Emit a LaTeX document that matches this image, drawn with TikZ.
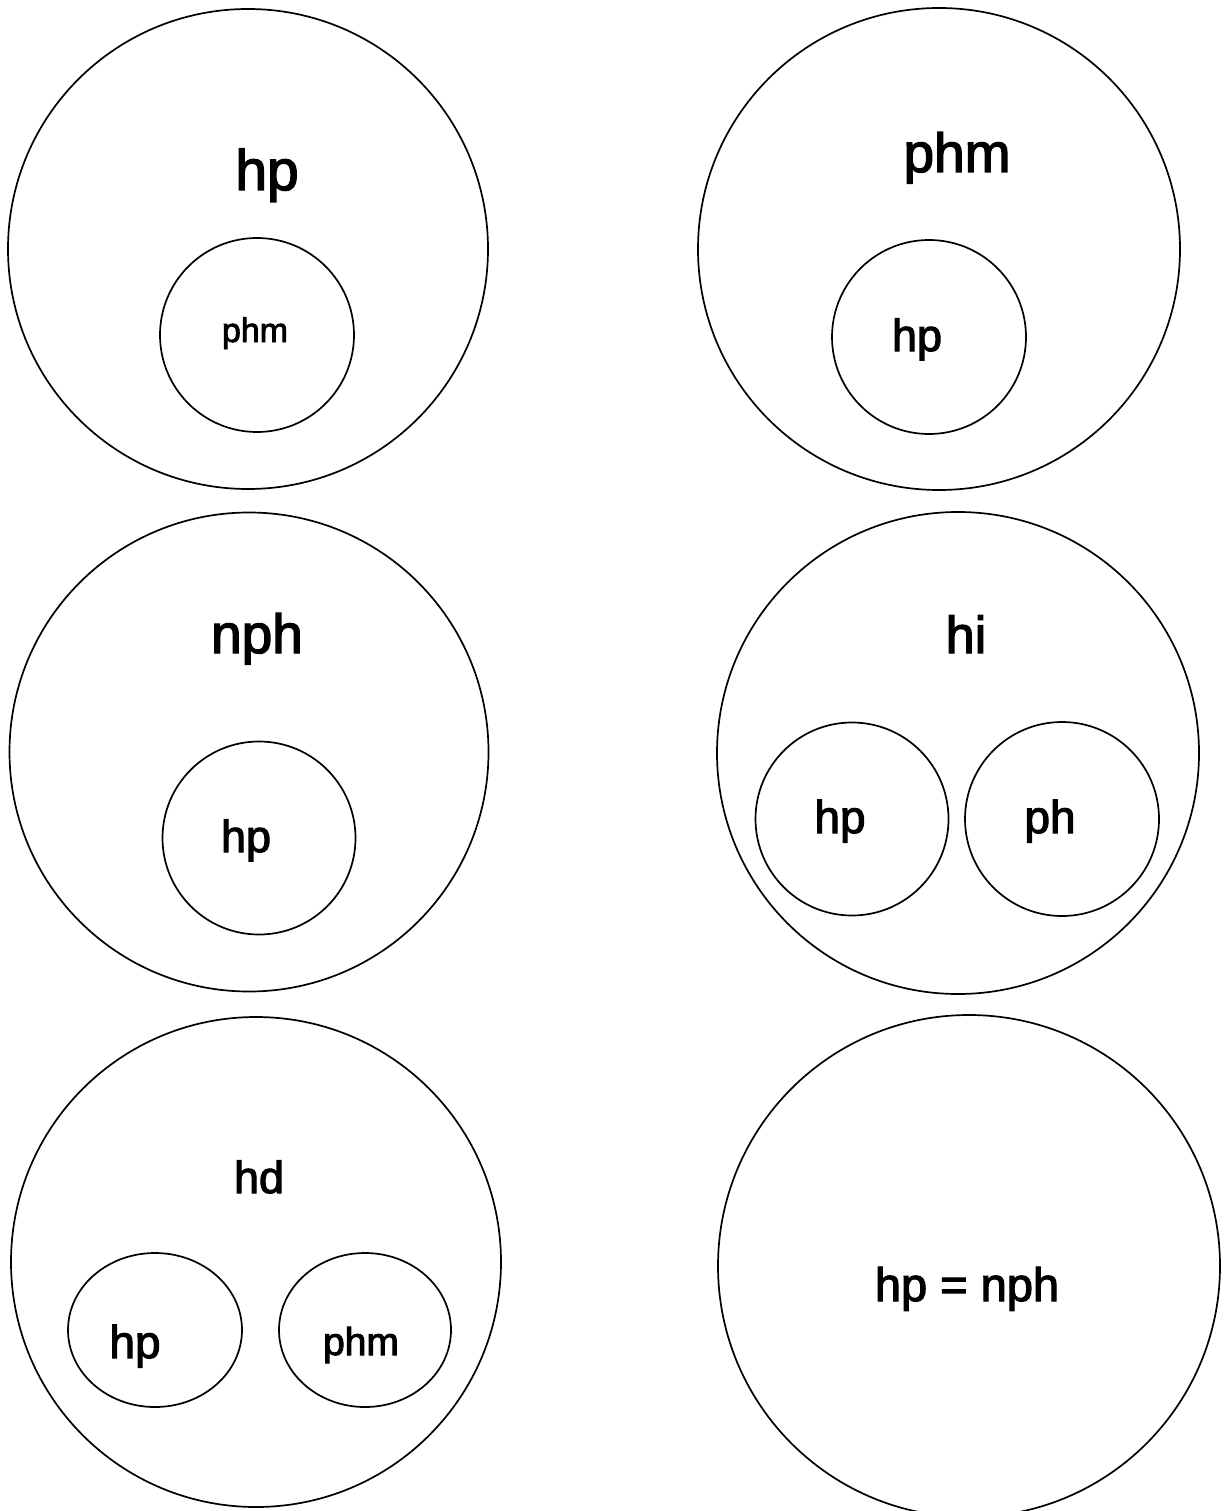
\documentclass[tikz,border=0pt]{standalone}
\usepackage{fontspec}
\setmainfont[FakeBold=2]{Liberation Sans}
\newfontfamily\lblfont[FakeBold=2.5]{Liberation Sans}
\usetikzlibrary{shapes.geometric}
\tikzset{
  ring/.style={draw, circle, line width=1.7pt, inner sep=0pt, outer sep=0pt},
  oval/.style={draw, ellipse, line width=1.7pt, inner sep=0pt, outer sep=0pt},
  lbl/.style={anchor=base, inner sep=0pt, font=\lblfont\fontsize{#1}{#1}\selectfont},
}
\begin{document}
\begin{tikzpicture}[x=1pt,y=-1pt]
\useasboundingbox[fill=white] (0,0) rectangle (1227,1511);
% circle 1
\node[ring, minimum size=480pt] (c1) at (248,249) {};
\node[lbl=57] (t1) at (267,190) {hp};
\node[ring, minimum size=194pt] (c1a) at (257,335) {};
\node[lbl=34] (t1a) at (255,342) {phm};
% circle 2
\node[ring, minimum size=482pt] (c2) at (939,249) {};
\node[lbl=55] (t2) at (957,172) {phm};
\node[ring, minimum size=194pt] (c2a) at (929,337) {};
\node[lbl=45] (t2a) at (917,351) {hp};
% circle 3
\node[ring, minimum size=479pt] (c3) at (249,752) {};
\node[lbl=55] (t3) at (257,653) {nph};
\node[ring, minimum size=193pt] (c3a) at (259,838) {};
\node[lbl=45] (t3a) at (246,852) {hp};
% circle 4
\node[ring, minimum size=482pt] (c4) at (958,753) {};
\node[lbl=52] (t4) at (966,653) {hi};
\node[ring, minimum size=193pt] (c4a) at (852,819) {};
\node[lbl=46] (t4a) at (840,833) {hp};
\node[ring, minimum size=194pt] (c4b) at (1062,819) {};
\node[lbl=46] (t4b) at (1050,833) {ph};
% circle 5
\node[ring, minimum size=490pt] (c5) at (256,1262) {};
\node[lbl=45] (t5) at (259,1193) {hd};
\node[oval, minimum width=174pt, minimum height=154pt] (c5a) at (155,1330) {};
\node[lbl=46] (t5a) at (135,1358) {hp};
\node[oval, minimum width=172pt, minimum height=154pt] (c5b) at (365,1330) {};
\node[lbl=39] (t5b) at (361,1355) {phm};
% circle 6
\node[ring, minimum size=502pt] (c6) at (969,1266) {};
\node[lbl=47] (t6) at (967,1301) {hp = nph};
\end{tikzpicture}
\end{document}
